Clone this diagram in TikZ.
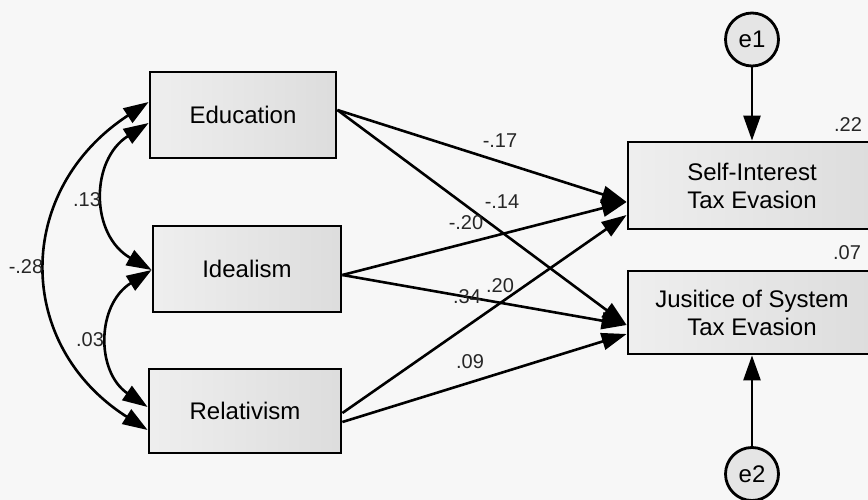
\documentclass[tikz,border=0pt]{standalone}
\usepackage{fontspec}
\setmainfont{Liberation Sans}
\usetikzlibrary{arrows.meta}
\begin{document}
\begin{tikzpicture}[x=1pt,y=-1pt,
  var/.style={draw=black, line width=2.8pt, left color=gray!13, right color=gray!27, font=\fontsize{24}{28}\selectfont, align=center, inner sep=0pt},
  err/.style={circle, draw=black, line width=2.8pt, fill=gray!20, minimum size=53pt, inner sep=0pt, font=\fontsize{24}{28}\selectfont},
  pathar/.style={line width=2.6pt, -{Triangle[length=25pt,width=17pt]}},
  covar/.style={line width=2.6pt, {Triangle[length=25pt,width=17pt]}-{Triangle[length=25pt,width=17pt]}},
  lab/.style={font=\fontsize{20}{23}\selectfont, inner sep=0pt, text=black!85}
]
\fill[white!97!black] (0,0) rectangle (868,500);
\useasboundingbox (0,0) rectangle (868,500);

% observed variables
\node[var, minimum width=186pt, minimum height=86pt] (edu) at (243,115) {Education};
\node[var, minimum width=188pt, minimum height=86pt] (ideal) at (247,269) {Idealism};
\node[var, minimum width=192pt, minimum height=84pt] (rel) at (245,411) {Relativism};
\node[var, minimum width=248pt, minimum height=87pt] (self) at (752,185.5) {Self-Interest\\Tax Evasion};
\node[var, minimum width=248pt, minimum height=83pt] (jus) at (752,312.5) {Jusitice of System\\Tax Evasion};

% errors
\node[err] (e1) at (752,39.5) {e1};
\node[err] (e2) at (752,474) {e2};

% error paths
\draw[pathar] (e1) -- (self.north);
\draw[pathar] (e2) -- (jus.south);

% regression paths
\draw[pathar] ([yshift=5pt]edu.east) -- ([yshift=-16.5pt]self.west);
\draw[pathar] ([yshift=5pt]edu.east) -- ([yshift=-12.5pt]jus.west);
\draw[pathar] ([yshift=-6pt]ideal.east) -- ([yshift=-16.5pt]self.west);
\draw[pathar] ([yshift=-6pt]ideal.east) -- ([yshift=-12.5pt]jus.west);
\draw[pathar] ([yshift=-2pt]rel.east) -- ([yshift=-29.5pt]self.west);
\draw[pathar] ([yshift=-11pt]rel.east) -- ([yshift=-21.5pt]jus.west);

% covariances
\draw[covar] ([yshift=13pt]edu.west) .. controls (14,190) and (14,345) .. ([yshift=-19pt]rel.west);
\draw[covar] ([yshift=-8pt]edu.west) .. controls (90,160) and (90,235) .. ([yshift=-1pt]ideal.west);
\draw[covar] ([yshift=-1pt]ideal.west) .. controls (96,305) and (96,372) .. ([yshift=4pt]rel.west);

% labels
\node[lab] (l1) at (500,141) {-.17};
\node[lab] (l2) at (502,202) {-.14};
\node[lab] (l3) at (466,223) {-.20};
\node[lab] (l4) at (500,286) {.20};
\node[lab] (l5) at (467,297) {.34};
\node[lab] (l6) at (470,362) {.09};
\node[lab] (l7) at (26,267) {-.28};
\node[lab] (l8) at (87,200) {.13};
\node[lab] (l9) at (90,340) {.03};
\node[lab] (r1) at (848,125) {.22};
\node[lab] (r2) at (847,253) {.07};
\end{tikzpicture}
\end{document}
